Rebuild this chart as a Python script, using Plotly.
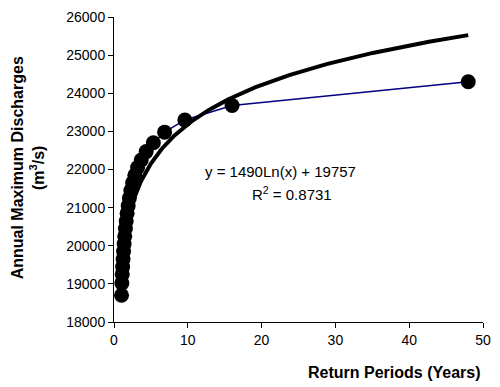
import numpy as np
import plotly.graph_objects as go

# Return periods (years) and annual maximum discharges (m3/s)
return_periods = [48.0, 16.0, 9.6, 6.857, 5.333, 4.364, 3.692, 3.2, 2.824, 2.526,
                  2.286, 2.087, 1.92, 1.778, 1.655, 1.548, 1.455, 1.371, 1.297,
                  1.231, 1.171, 1.116, 1.067, 1.021]
discharges = [24300, 23680, 23300, 22980, 22700, 22470, 22250, 22050, 21850, 21650,
              21450, 21250, 21050, 20850, 20650, 20450, 20250, 20050, 19850, 19650,
              19450, 19250, 19020, 18700]

# Logarithmic trendline coefficients (as printed on the chart)
trend_slope = 1490
trend_intercept = 19757

x_ticks = [0, 10, 20, 30, 40, 50]
y_ticks = [18000, 19000, 20000, 21000, 22000, 23000, 24000, 25000, 26000]

tx = np.linspace(min(return_periods), max(return_periods), 400)
ty = trend_slope * np.log(tx) + trend_intercept

fig = go.Figure()
fig.add_trace(go.Scatter(
    x=return_periods, y=discharges, mode="lines+markers",
    line=dict(color="#000080", width=1.5),
    marker=dict(color="black", size=15, line=dict(width=0)),
    showlegend=False))
fig.add_trace(go.Scatter(
    x=tx, y=ty, mode="lines", line=dict(color="black", width=4),
    showlegend=False))

font = "Liberation Sans, Arial, sans-serif"
fig.update_layout(
    width=500, height=387,
    margin=dict(l=114, r=9, t=15, b=65),
    paper_bgcolor="white", plot_bgcolor="white",
    font=dict(family=font, size=14, color="black"),
    xaxis=dict(range=[0, 50], tickvals=x_ticks, ticktext=[str(v) for v in x_ticks],
               showgrid=False, zeroline=False,
               showline=True, linecolor="black", linewidth=1,
               ticks="outside", ticklen=5, tickcolor="black",
               tickfont=dict(size=14)),
    yaxis=dict(range=[18000, 26000], tickvals=y_ticks, ticktext=[str(v) for v in y_ticks],
               showgrid=False, zeroline=False,
               showline=True, linecolor="black", linewidth=1,
               ticks="outside", ticklen=5, tickcolor="black",
               tickfont=dict(size=14)),
    annotations=[
        dict(text="<b>Return Periods (Years)</b>", xref="paper", yref="paper",
             x=1.0, y=-0.165, xanchor="right", yanchor="middle", showarrow=False,
             font=dict(size=16)),
        dict(text="<b>Annual Maximum Discharges</b><br><b>(m<sup>3</sup>/s)</b>",
             xref="paper", yref="paper", x=-0.232, y=0.505, textangle=-90,
             xanchor="center", yanchor="middle", showarrow=False,
             font=dict(size=16)),
        dict(text="y = 1490Ln(x) + 19757", xref="x", yref="y",
             x=22.5, y=21960, showarrow=False, font=dict(size=15)),
        dict(text="R<sup>2</sup> = 0.8731", xref="x", yref="y",
             x=24.1, y=21360, showarrow=False, font=dict(size=15)),
    ],
)

fig.write_html("out.html")
